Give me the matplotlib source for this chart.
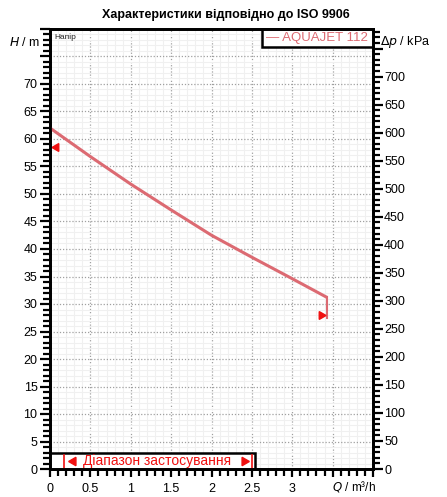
import matplotlib
matplotlib.use("Agg")
import matplotlib.pyplot as plt
from matplotlib.ticker import MultipleLocator, FixedLocator
from matplotlib.patches import Rectangle

plt.rcParams['font.family'] = ['Liberation Sans', 'DejaVu Sans']

# Data
q_values = [0.0, 0.5, 1.0, 1.5, 2.0, 2.5, 3.0, 3.43]
h_values = [62.0, 56.8, 51.8, 47.1, 42.5, 38.5, 34.6, 31.2]
q_end = 3.43
h_end_low = 27.5
h_min_marker = 58.6
h_max_marker = 28.0
range_q = [0.17, 2.5]
series_name = "AQUAJET 112"
title = "Характеристики відповідно до ISO 9906"
range_label = "Діапазон застосування"
x_tick_labels = ["0", "0.5", "1", "1.5", "2", "2.5", "3"]
h_tick_labels = [str(v) for v in range(0, 75, 5)]
p_tick_labels = [str(v) for v in range(0, 750, 50)]
KPA_PER_M = 9.81

curve_color = "#dc6a72"
red = "#f01010"

fig = plt.figure(figsize=(4.47, 4.97), dpi=100)
ax = fig.add_axes([50/447, 1-469/497, 323/447, 440/497])
ax.set_xlim(0, 4)
ax.set_ylim(0, 80)

# grid
ax.xaxis.set_minor_locator(MultipleLocator(0.1))
ax.yaxis.set_minor_locator(MultipleLocator(1))
ax.set_xticks([i*0.5 for i in range(9)])
ax.set_yticks(list(range(0, 85, 5)))
ax.grid(which='minor', color='#f0f0f0', lw=0.8, ls='-')
ax.grid(which='major', color='#a0a0a0', lw=0.9, ls=(0, (1, 1.5)))
ax.set_axisbelow(True)

ax.set_xticklabels(x_tick_labels + [""] * 2, fontsize=9)
ax.set_yticklabels(h_tick_labels + [""] * 2, fontsize=9)

for s in ax.spines.values():
    s.set_linewidth(2)
ax.tick_params(axis='y', which='major', direction='out', length=7, width=1.6, pad=2)
ax.tick_params(axis='y', which='minor', direction='out', length=5, width=1.6)
ax.tick_params(axis='x', which='major', direction='out', length=6, width=1.6, pad=4)
ax.tick_params(axis='x', which='minor', direction='out', length=5, width=1.6)

# right axis
ax2 = ax.twinx()
ax2.set_ylim(0, 80*KPA_PER_M)
ax2.yaxis.set_major_locator(FixedLocator(list(range(0, 800, 50))))
ax2.yaxis.set_minor_locator(MultipleLocator(10))
ax2.set_yticklabels(p_tick_labels + [""], fontsize=9)
ax2.tick_params(axis='y', which='major', direction='out', length=7, width=1.6, pad=1)
ax2.tick_params(axis='y', which='minor', direction='out', length=5, width=1.6)
for s in ax2.spines.values():
    s.set_linewidth(2)

# curve
ax.plot(q_values, h_values, color=curve_color, lw=2.2, zorder=5, solid_capstyle='butt')
ax.plot([q_end, q_end], [h_values[-1], h_end_low], color=curve_color, lw=1.5, zorder=5)

# markers
ax.plot([0.07], [h_min_marker], marker=(3, 0, 90), color=red, ms=6.5, zorder=6)
ax.plot([q_end - 0.07], [h_max_marker], marker=(3, 0, -90), color=red, ms=6.5, zorder=6)

# legend box (drawn manually)
leg_rect = Rectangle((0.655, 0.96), 0.345, 0.04, transform=ax.transAxes,
                     facecolor='white', edgecolor='black', lw=1.8, zorder=9, clip_on=False)
ax.add_patch(leg_rect)
ax.text(0.827, 0.9805, "— " + series_name, transform=ax.transAxes, color=curve_color,
        fontsize=9.5, ha='center', va='center', zorder=10)

# range box
rect = Rectangle((0, 0), 2.54, 2.9, transform=ax.transData, facecolor='white',
                 edgecolor='black', lw=1.8, zorder=7, clip_on=False)
ax.add_patch(rect)
for qv in range_q:
    ax.plot([qv, qv], [0.2, 2.5], color=red, lw=1.2, zorder=8)
ax.plot([range_q[0] + 0.11], [1.4], marker=(3, 0, 90), color=red, ms=7, zorder=8)
ax.plot([range_q[1] - 0.1], [1.4], marker=(3, 0, -90), color=red, ms=7, zorder=8)
ax.text((range_q[0] + range_q[1]) / 2 - 0.01, 1.45, range_label, color=red, fontsize=10,
        va='center', ha='center', zorder=8)

# labels
ax.text(0.05, 79.2, "Напір", fontsize=6, va='top', ha='left', color='#222222')
fig.text(9/447, 1-42/497, r"$H$ / m", fontsize=9, va='center', ha='left')
fig.text(380/447, 1-42/497, r"$\Delta p$ / kPa", fontsize=9, va='center', ha='left')
fig.text(332/447, 1-487/497, r"$Q$ / m³/h", fontsize=8.5, va='center', ha='left')
fig.text(226/447, 1-15/497, title, fontsize=9, fontweight='bold', va='center', ha='center')

fig.savefig("out.png", dpi=100)
